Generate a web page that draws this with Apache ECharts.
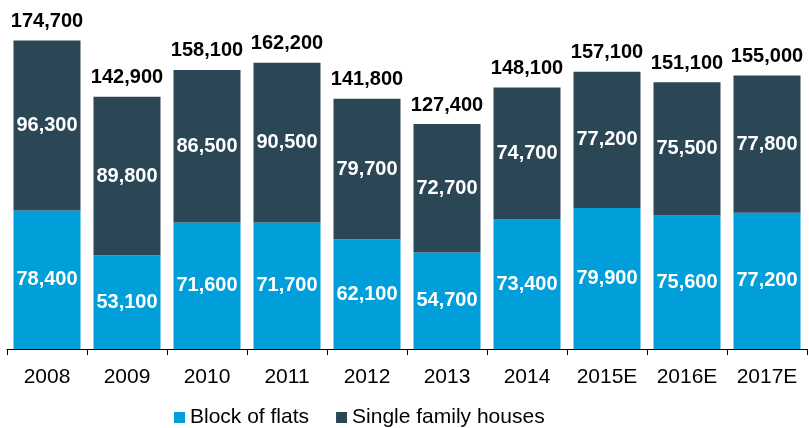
<!DOCTYPE html>
<html><head><meta charset="utf-8">
<script src="https://cdn.jsdelivr.net/npm/echarts@6/dist/echarts.min.js"></script>
<style>html,body{margin:0;padding:0;background:#fff}#c{width:809px;height:428px}</style>
</head><body><div id="c"></div>
<script>
const categories = ['2008','2009','2010','2011','2012','2013','2014','2015E','2016E','2017E'];
const blockOfFlats = [78400,53100,71600,71700,62100,54700,73400,79900,75600,77200];
const singleFamily = [96300,89800,86500,90500,79700,72700,74700,77200,75500,77800];
const totals = [174700,142900,158100,162200,141800,127400,148100,157100,151100,155000];
const fmt = v => String(v).replace(/\B(?=(\d{3})+(?!\d))/g, ',');
const FONT = '"Liberation Sans", Arial, sans-serif';
const chart = echarts.init(document.getElementById('c'), null, {renderer:'canvas'});
chart.setOption({
  animation:false,
  textStyle:{fontFamily:FONT},
  grid:{left:7,right:2,top:0,bottom:79,containLabel:false},
  legend:{
    left:169, top:402, itemWidth:11, itemHeight:11, itemGap:27, icon:'rect',
    textStyle:{fontFamily:FONT,fontSize:21,color:'#000'},
    data:['Block of flats','Single family houses']
  },
  xAxis:{
    type:'category', data:categories,
    axisLine:{lineStyle:{color:'#000',width:1}},
    axisTick:{show:true,length:6,lineStyle:{color:'#000'}},
    axisLabel:{color:'#000',fontSize:21,fontFamily:FONT,margin:18}
  },
  yAxis:{type:'value',min:0,max:197700,show:false,splitLine:{show:false}},
  series:[
    {name:'Block of flats',type:'bar',stack:'a',data:blockOfFlats,barWidth:67,
     itemStyle:{color:'#009FDA'},
     label:{show:true,position:'inside',color:'#fff',fontWeight:'bold',fontSize:20,fontFamily:FONT,
       formatter:p=>fmt(p.value)}},
    {name:'Single family houses',type:'bar',stack:'a',data:singleFamily,barWidth:67,
     itemStyle:{color:'#2B4756'},
     label:{show:true,position:'inside',color:'#fff',fontWeight:'bold',fontSize:20,fontFamily:FONT,
       formatter:p=>fmt(p.value)}},
    {name:'total',type:'bar',stack:'a',data:totals.map(()=>0),barWidth:67,
     itemStyle:{color:'transparent'},tooltip:{show:false},
     label:{show:true,position:'top',distance:9,color:'#000',fontWeight:'bold',fontSize:20,fontFamily:FONT,
       formatter:p=>fmt(totals[p.dataIndex])}}
  ]
});
</script></body></html>
